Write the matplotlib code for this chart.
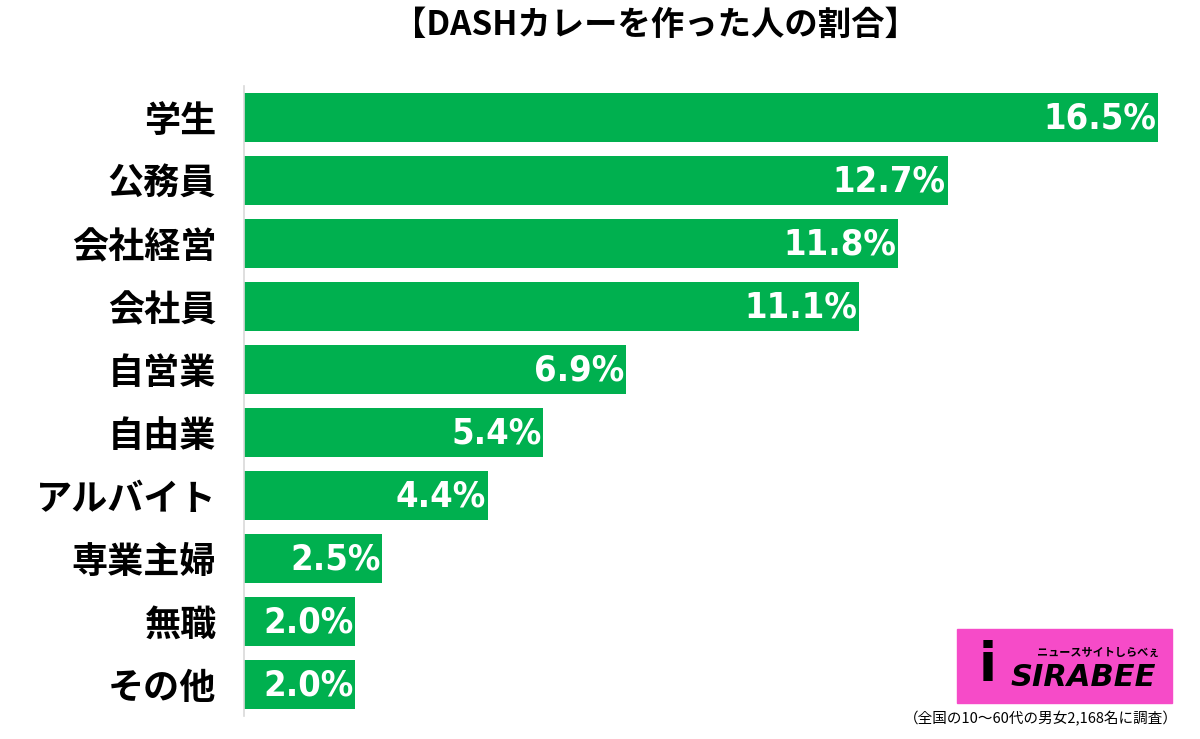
import matplotlib.pyplot as plt
from matplotlib.patches import Rectangle

plt.rcParams['font.family'] = ['Noto Sans CJK JP', 'DejaVu Sans']

# data
categories = ['学生', '公務員', '会社経営', '会社員', '自営業', '自由業',
              'アルバイト', '専業主婦', '無職', 'その他']
values = [16.5, 12.7, 11.8, 11.1, 6.9, 5.4, 4.4, 2.5, 2.0, 2.0]
title = '【DASHカレーを作った人の割合】'
note = '（全国の10～60代の男女2,168名に調査）'

green = '#00B04F'

fig = plt.figure(figsize=(12, 7.39), dpi=100)
ax = fig.add_axes([244 / 1200, 1 - 716 / 739, (1158 - 244) / 1200, 630 / 739])

pos = list(range(len(categories)))
ax.barh(pos, values, height=0.78, color=green, zorder=2)
ax.set_xlim(0, 16.5)
ax.set_ylim(len(categories) - 0.5, -0.5)

for p, v in zip(pos, values):
    ax.text(v - 0.03, p + 0.02, f'{v:.1f}%', color='white', ha='right', va='center',
            fontsize=26, fontweight='bold', fontstretch='condensed',
            family=['DejaVu Sans'], zorder=3)

ax.set_yticks(pos)
ax.set_yticklabels(categories, fontsize=26, fontweight='bold')
ax.tick_params(axis='y', length=0, pad=20)
ax.set_xticks([])
for s in ['top', 'right', 'bottom']:
    ax.spines[s].set_visible(False)
ax.spines['left'].set_color('#D9D9D9')
ax.spines['left'].set_linewidth(1.2)

fig.text(655 / 1200, 1 - 25 / 739, title, ha='center', va='center',
         fontsize=24, fontweight='bold')

# logo
fig.patches.append(Rectangle((957 / 1200, 1 - 703 / 739), 215 / 1200, 74 / 739,
                             transform=fig.transFigure, color='#F64BC8', zorder=5))
fig.text(1083 / 1200, 1 - 678 / 739, 'SIRABEE', ha='center', va='center',
         fontsize=22, fontweight='bold', style='italic', color='black',
         family=['DejaVu Sans'], zorder=6)
fig.text(1098 / 1200, 1 - 652 / 739, 'ニュースサイトしらべぇ', ha='center', va='center',
         fontsize=8, fontweight='bold', color='black', zorder=6)
fig.text(988 / 1200, 1 - 666 / 739, 'i', ha='center', va='center',
         fontsize=38, fontweight='bold', color='black', family=['DejaVu Sans'], zorder=6)

fig.text(1178 / 1200, 1 - 719 / 739, note, ha='right', va='center', fontsize=10.5)

fig.savefig('out.png', dpi=100)
